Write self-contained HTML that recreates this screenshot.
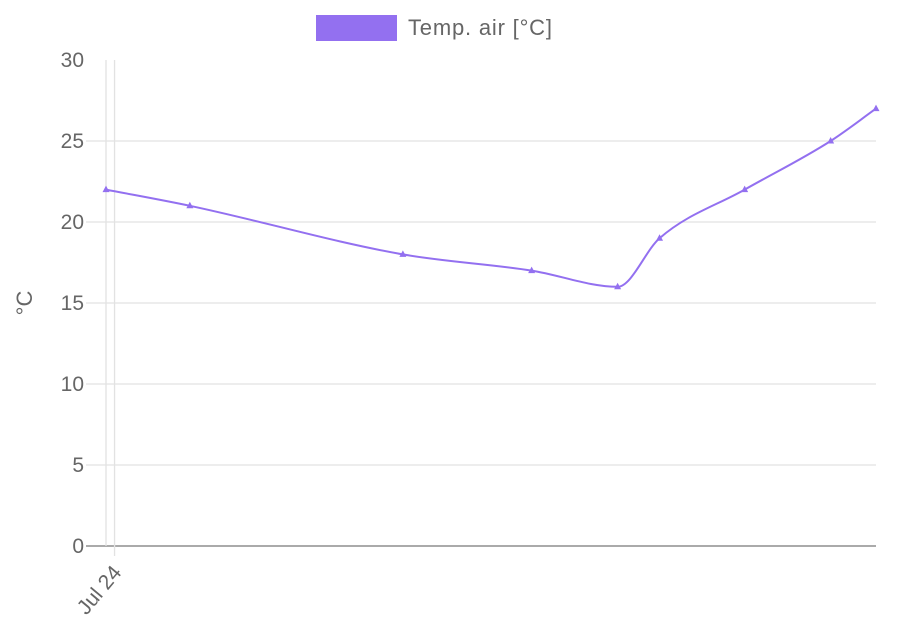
<!DOCTYPE html>
<html><head><meta charset="utf-8"><style>
body{margin:0;background:#fff;font-family:"Liberation Sans",sans-serif}
svg text{font-family:"Liberation Sans",sans-serif;fill:#666}
</style></head><body>
<svg id="c" width="904" height="630">
<g>
<rect x="316" y="15" width="81" height="26" fill="#9370f0"/>
<text x="408" y="35" font-size="22" textLength="144">Temp. air [°C]</text>
</g>
<text transform="translate(32,303) rotate(-90)" font-size="22" text-anchor="middle">°C</text>
<g id="grid"></g><g id="series"></g>
</svg>
<script>
const hours=[-0.2,1.76,6.74,9.75,11.76,12.74,14.73,16.74,17.8];
const temps=[22,21,18,17,16,19,22,25,27];
const yTicks=[0,5,10,15,20,25,30];
const xTickHours=[0];
const xTickLabels=["Jul 24"];
const X0=106,X1=876,Y0=546,Y1=60,xmin=-0.2,xmax=17.8,ymin=0,ymax=30;
const sx=h=>X0+(h-xmin)/(xmax-xmin)*(X1-X0);
const sy=v=>Y0-(v-ymin)/(ymax-ymin)*(Y0-Y1);
const NS="http://www.w3.org/2000/svg";
const grid=document.getElementById('grid'),ser=document.getElementById('series');
function mk(p,tag,a){const e=document.createElementNS(NS,tag);for(const k in a)e.setAttribute(k,a[k]);p.appendChild(e);return e;}
yTicks.forEach(v=>{
 if(v!==ymax){
 const l=mk(grid,'line',{x1:86,x2:X1,y1:sy(v),y2:sy(v),stroke:v===0?'#aaa':'#e2e2e2','stroke-width':v===0?2:1.3});
 
 
 }
 const t=mk(grid,'text',{x:84,y:sy(v)+7,'font-size':21,'text-anchor':'end'});t.textContent=v;
 
 
});
const lv=mk(grid,'line',{x1:X0,x2:X0,y1:Y1,y2:Y0,stroke:'#e2e2e2','stroke-width':1.3});


xTickHours.forEach((h,i)=>{
 const x=sx(h);
 const l=mk(grid,'line',{x1:x,x2:x,y1:Y1,y2:Y0+10,stroke:'#e2e2e2','stroke-width':1.3});
 
 
 const t=mk(grid,'text',{transform:`translate(${x+8},${Y0+27}) rotate(-50)`,'font-size':21,'text-anchor':'end'});
 t.textContent=xTickLabels[i];
 
 
});
const px=hours.map(sx),py=temps.map(sy),n=px.length;
const d=[],m=[];
for(let i=0;i<n-1;i++)d.push((py[i+1]-py[i])/(px[i+1]-px[i]));
m[0]=d[0];m[n-1]=d[n-2];
for(let i=1;i<n-1;i++)m[i]=(d[i-1]*d[i]<=0)?0:(d[i-1]+d[i])/2;
for(let i=0;i<n-1;i++){if(d[i]===0){m[i]=m[i+1]=0;continue;}const a=m[i]/d[i],b=m[i+1]/d[i],s=a*a+b*b;if(s>9){const t=3/Math.sqrt(s);m[i]=t*a*d[i];m[i+1]=t*b*d[i];}}
let path=`M${px[0]},${py[0]}`;
for(let i=0;i<n-1;i++){const h=(px[i+1]-px[i])/3;path+=` C${px[i]+h},${py[i]+m[i]*h} ${px[i+1]-h},${py[i+1]-m[i+1]*h} ${px[i+1]},${py[i+1]}`;}
const ln=mk(ser,'path',{d:path,fill:'none',stroke:'#9370f0','stroke-width':2});


for(let i=0;i<n;i++){
 const p=mk(ser,'polygon',{points:`${px[i]},${py[i]-4} ${px[i]-3.5},${py[i]+2.5} ${px[i]+3.5},${py[i]+2.5}`,fill:'#9370f0'});
 
 
}
</script>
</body></html>
